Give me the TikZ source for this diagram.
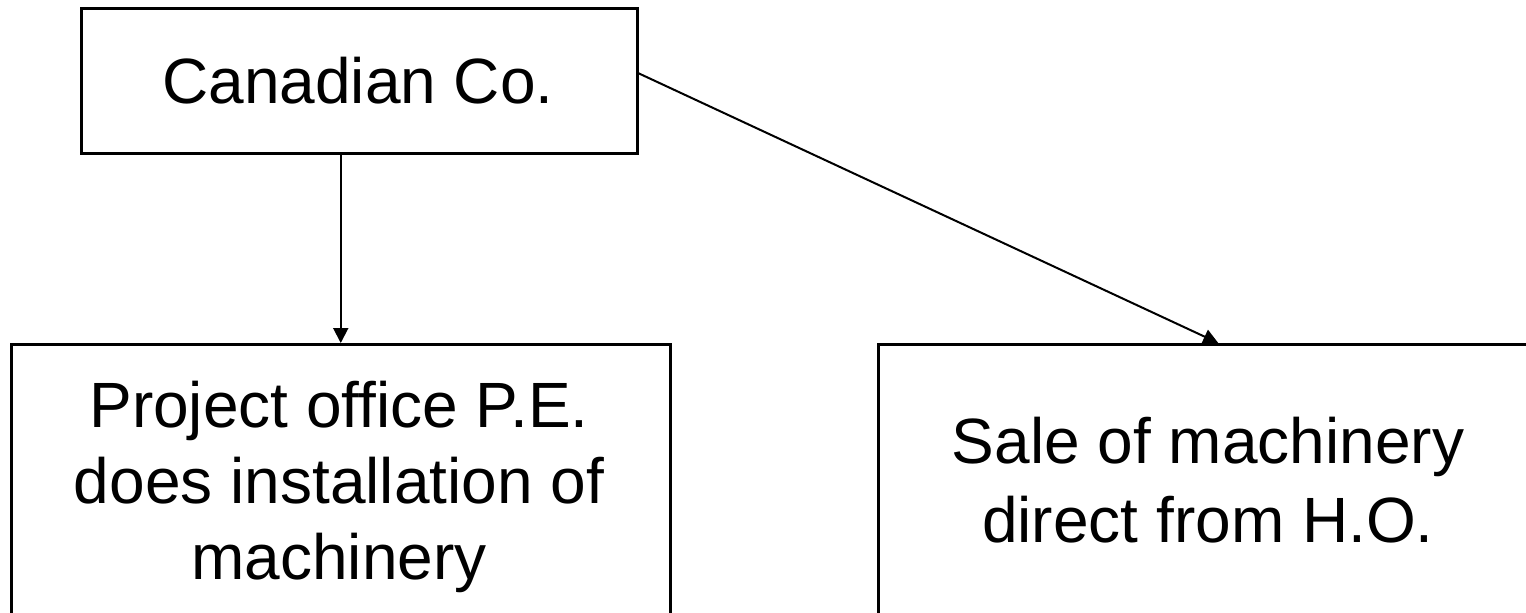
\documentclass[tikz,border=0pt]{standalone}
\usepackage{fontspec}
\setmainfont{Liberation Sans}
\usetikzlibrary{arrows.meta}
\begin{document}
\begin{tikzpicture}[x=1pt,y=-1pt,
  box/.style={draw,line width=2.5pt,inner sep=0pt,anchor=north west},
  lbl/.style={font=\fontsize{64}{77}\selectfont,anchor=base,inner sep=0pt},
  conn/.style={line width=2pt,-{Triangle[length=15pt,width=15pt]}}]
\useasboundingbox (0,0) rectangle (1526,613);
\clip (0,0) rectangle (1526,613);
\node[box,minimum width=556pt,minimum height=145pt] (top) at (80,7) {};
\node[box,minimum width=659pt,minimum height=285pt] (left) at (10,343) {};
\node[box,minimum width=683pt,minimum height=285pt] (right) at (877,343) {};
\node[lbl] (t1) at (358,103) {Canadian Co.};
\node[lbl] (l1) at (339,427) {Project office P.E.};
\node[lbl] (l2) at (339,503) {does installation of};
\node[lbl] (l3) at (339,579) {machinery};
\node[lbl] (r1) at (1208,463) {Sale of machinery};
\node[lbl] (r2) at (1208,542) {direct from H.O.};
\draw[conn] (left.north |- top.south) -- (left.north);
\draw[conn] ([yshift=7.5pt]top.east) -- ([xshift=-1.5pt]right.north);
\end{tikzpicture}
\end{document}
